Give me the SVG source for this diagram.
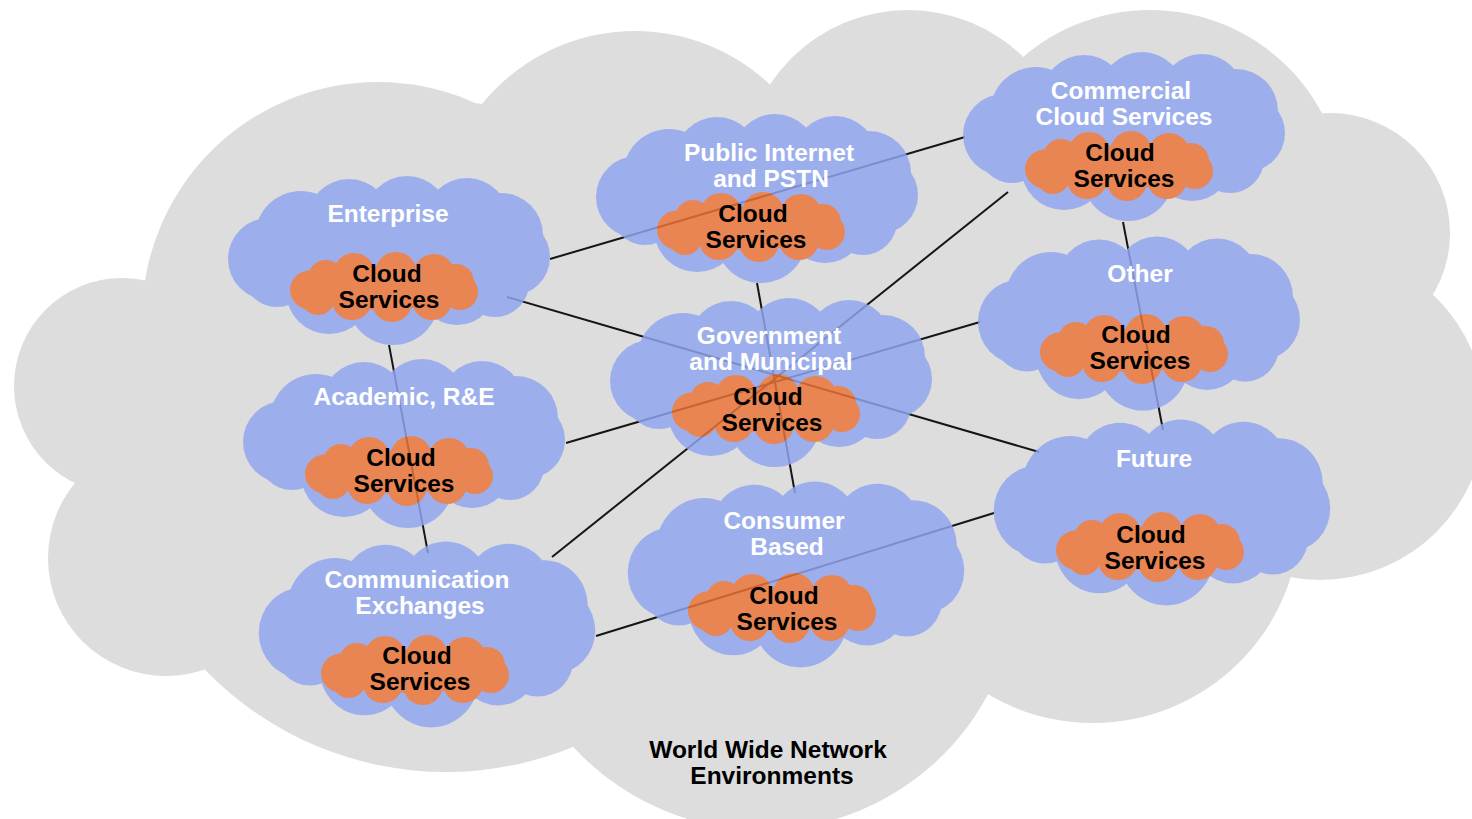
<svg xmlns="http://www.w3.org/2000/svg" xmlns:xlink="http://www.w3.org/1999/xlink" width="1472" height="819" viewBox="0 0 1472 819">
<style>
.bg{fill:#dddddd}
.blue{fill:#90a6f0}
.orange{fill:#ec7438}
.shape{opacity:0.83}
.title{font-family:"Liberation Sans",Arial,sans-serif;font-weight:bold;font-size:24.5px;fill:#ffffff;text-anchor:middle}
.inner{font-family:"Liberation Sans",Arial,sans-serif;font-weight:bold;font-size:24.5px;fill:#000000;text-anchor:middle}
.conn line{stroke:#151515;stroke-width:2;fill:none}
</style>
<defs>
<g id="bc">
<circle cx="-120" cy="-2" r="41"/>
<circle cx="-88" cy="-24" r="46"/>
<circle cx="-40" cy="-40" r="42"/>
<circle cx="18" cy="-43" r="42"/>
<circle cx="78" cy="-41" r="42"/>
<circle cx="112" cy="-26" r="42"/>
<circle cx="122" cy="-4" r="39"/>
<circle cx="106" cy="22" r="34"/>
<circle cx="68" cy="24" r="40"/>
<circle cx="4" cy="38" r="46"/>
<circle cx="-60" cy="30" r="43"/>
<circle cx="-112" cy="12" r="34"/>
<ellipse cx="0" cy="-2" rx="120" ry="55"/>
</g>
<g id="oc">
<ellipse cx="-72" cy="2" rx="22" ry="20"/>
<circle cx="-58" cy="-10" r="18"/>
<circle cx="-30" cy="-14" r="21"/>
<circle cx="12" cy="-15" r="21"/>
<circle cx="50" cy="-13" r="21"/>
<circle cx="72" cy="-6" r="18"/>
<circle cx="76" cy="4" r="18"/>
<circle cx="48" cy="12" r="20"/>
<circle cx="8" cy="14" r="20"/>
<circle cx="-32" cy="12" r="20"/>
<circle cx="-66" cy="10" r="17"/>
<ellipse cx="0" cy="0" rx="70" ry="22"/>
</g>
</defs>
<g id="background" class="bg">
<polygon points="122,386 378,318 635,228 908,175 1150,205 1330,233 1320,415 1093,516 762,574 446,437 166,558"/>
<circle cx="122" cy="386" r="108"/>
<circle cx="378" cy="318" r="236"/>
<circle cx="635" cy="228" r="197"/>
<circle cx="908" cy="175" r="165"/>
<circle cx="1150" cy="205" r="195"/>
<circle cx="1330" cy="233" r="120"/>
<circle cx="1320" cy="415" r="165"/>
<circle cx="1093" cy="516" r="207"/>
<circle cx="762" cy="574" r="256"/>
<circle cx="446" cy="437" r="335"/>
<circle cx="166" cy="558" r="118"/>
</g>
<g id="connectors" class="conn">
<line x1="550" y1="259" x2="965" y2="137"/>
<line x1="507" y1="297" x2="1039" y2="452"/>
<line x1="389" y1="345" x2="428" y2="553"/>
<line x1="757" y1="283" x2="795" y2="493"/>
<line x1="1123" y1="222" x2="1163" y2="430"/>
<line x1="1008" y1="192" x2="552" y2="557"/>
<line x1="980" y1="322" x2="566" y2="443"/>
<line x1="994" y1="513" x2="596" y2="636"/>
</g>
<g id="node-enterprise">
<g class="shape"><use xlink:href="#bc" class="blue" transform="translate(389,261)"/><use xlink:href="#oc" class="orange" transform="translate(384,288)"/></g>
<text class="title" x="388" y="222">Enterprise</text>
<text class="inner" x="387" y="281.5">Cloud</text>
<text class="inner" x="389" y="307.5">Services</text>
</g>
<g id="node-public">
<g class="shape"><use xlink:href="#bc" class="blue" transform="translate(757,199)"/><use xlink:href="#oc" class="orange" transform="translate(751,228)"/></g>
<text class="title" x="769" y="160.5">Public Internet</text>
<text class="title" x="771" y="186.5">and PSTN</text>
<text class="inner" x="753" y="221.5">Cloud</text>
<text class="inner" x="756" y="247.5">Services</text>
</g>
<g id="node-commercial">
<g class="shape"><use xlink:href="#bc" class="blue" transform="translate(1124,137)"/><use xlink:href="#oc" class="orange" transform="translate(1119,167)"/></g>
<text class="title" x="1121" y="98.5">Commercial</text>
<text class="title" x="1124" y="124.5">Cloud Services</text>
<text class="inner" x="1120" y="160.5">Cloud</text>
<text class="inner" x="1124" y="186.5">Services</text>
</g>
<g id="node-other">
<g class="shape"><use xlink:href="#bc" class="blue" transform="translate(1139,324) scale(1,1.03)"/><use xlink:href="#oc" class="orange" transform="translate(1134,350)"/></g>
<text class="title" x="1140" y="282">Other</text>
<text class="inner" x="1136" y="342.5">Cloud</text>
<text class="inner" x="1140" y="368.5">Services</text>
</g>
<g id="node-government">
<g class="shape"><use xlink:href="#bc" class="blue" transform="translate(771,383)"/><use xlink:href="#oc" class="orange" transform="translate(766,410)"/></g>
<text class="title" x="769" y="343.5">Government</text>
<text class="title" x="771" y="369.5">and Municipal</text>
<text class="inner" x="768" y="404.5">Cloud</text>
<text class="inner" x="772" y="430.5">Services</text>
</g>
<g id="node-academic">
<g class="shape"><use xlink:href="#bc" class="blue" transform="translate(404,444)"/><use xlink:href="#oc" class="orange" transform="translate(399,472)"/></g>
<text class="title" x="404" y="405">Academic, R&amp;E</text>
<text class="inner" x="401" y="466">Cloud</text>
<text class="inner" x="404" y="492">Services</text>
</g>
<g id="node-communication">
<g class="shape"><use xlink:href="#bc" class="blue" transform="translate(427,635) scale(1.045,1.1)"/><use xlink:href="#oc" class="orange" transform="translate(415,671)"/></g>
<text class="title" x="417" y="587.5">Communication</text>
<text class="title" x="420" y="613.5">Exchanges</text>
<text class="inner" x="417" y="664">Cloud</text>
<text class="inner" x="420" y="690">Services</text>
</g>
<g id="node-consumer">
<g class="shape"><use xlink:href="#bc" class="blue" transform="translate(796,575) scale(1.045,1.1)"/><use xlink:href="#oc" class="orange" transform="translate(782,609)"/></g>
<text class="title" x="784" y="528.5">Consumer</text>
<text class="title" x="787" y="554.5">Based</text>
<text class="inner" x="784" y="604">Cloud</text>
<text class="inner" x="787" y="630">Services</text>
</g>
<g id="node-future">
<g class="shape"><use xlink:href="#bc" class="blue" transform="translate(1162,513) scale(1.045,1.1)"/><use xlink:href="#oc" class="orange" transform="translate(1150,548)"/></g>
<text class="title" x="1154" y="467">Future</text>
<text class="inner" x="1151" y="543">Cloud</text>
<text class="inner" x="1155" y="569">Services</text>
</g>
<g id="label-world">
<text class="inner" x="768" y="757.5">World Wide Network</text>
<text class="inner" x="772" y="783.5">Environments</text>
</g>
</svg>
